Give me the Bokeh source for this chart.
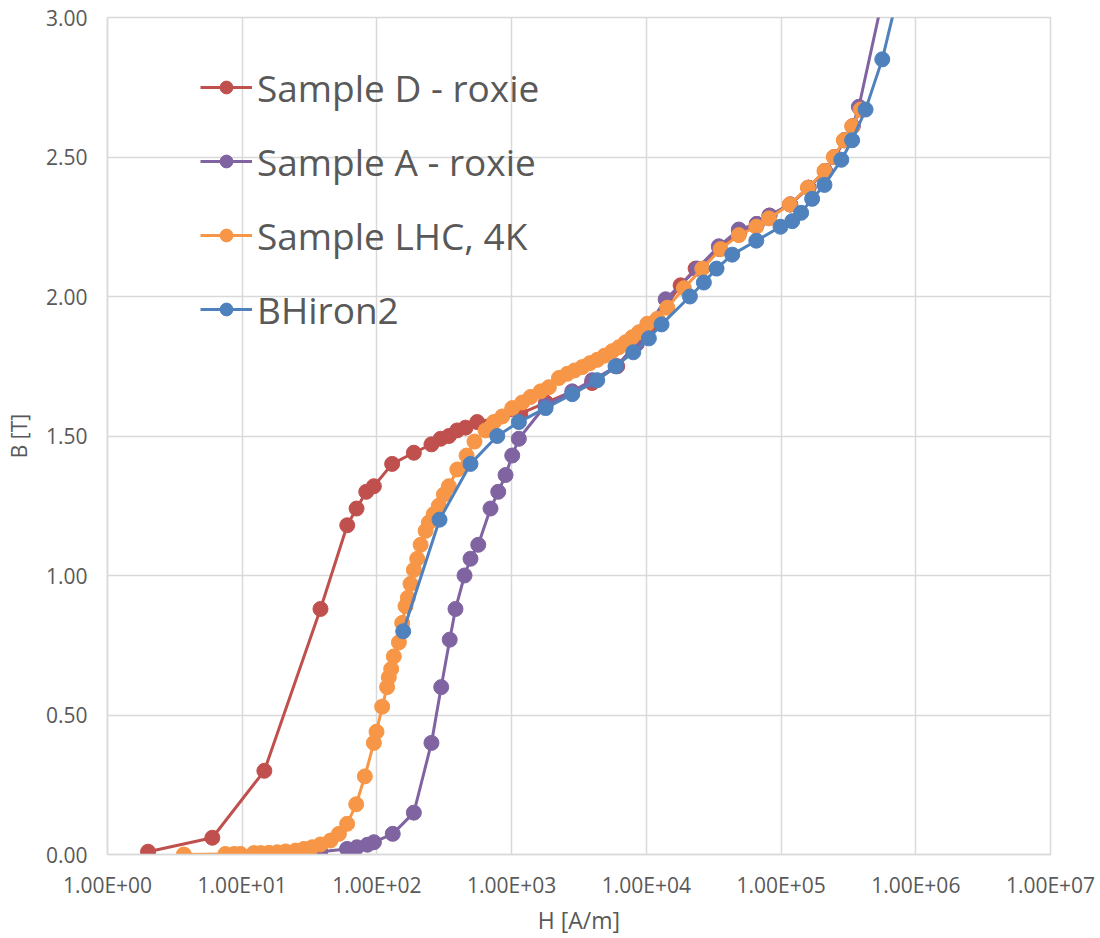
from bokeh.plotting import figure
from bokeh.models import (Range1d, FixedTicker, CustomJSTickFormatter, PrintfTickFormatter,
                          Legend, LegendItem)
from bokeh.embed import file_html
from bokeh.resources import INLINE

# B-H curves: field strength H [A/m] and flux density B [T]
h_sample_d = [2.0, 6.0, 14.6, 38.1, 60.2, 70.6, 83.3, 94.9, 129.7, 188, 254, 297, 342, 394, 455,
              555, 1160, 1800, 3950, 6080, 8000, 11000, 17950, 23200, 35000, 49000, 66000, 82000,
              117000, 160000, 212000, 250000, 295000, 340000, 390000]
b_sample_d = [0.01, 0.06, 0.30, 0.88, 1.18, 1.24, 1.30, 1.32, 1.40, 1.44, 1.47, 1.49, 1.50, 1.52, 1.53,
              1.55, 1.58, 1.62, 1.69, 1.75, 1.82, 1.90, 2.04, 2.10, 2.17, 2.23, 2.26, 2.29,
              2.33, 2.39, 2.45, 2.50, 2.56, 2.61, 2.67]

h_sample_a = [38, 60, 71, 85, 95, 131, 188, 254, 300, 347, 383, 447, 495, 565, 697, 795, 901, 1010,
              1131, 1786, 2818, 3967, 6000, 8500, 13900, 23900, 34500, 48600, 66000, 82000, 117000,
              160000, 212000, 250000, 295000, 340000, 378000, 800000]
b_sample_a = [0.01, 0.02, 0.026, 0.035, 0.044, 0.074, 0.15, 0.40, 0.60, 0.77, 0.88, 1.00, 1.06, 1.11,
              1.24, 1.30, 1.36, 1.43, 1.49, 1.61, 1.66, 1.70, 1.75, 1.83, 1.99, 2.10, 2.18, 2.24, 2.26,
              2.29, 2.33, 2.39, 2.45, 2.50, 2.56, 2.61, 2.68, 3.40]

h_sample_lhc = [3.69, 7.5, 8.7, 9.7, 12.2, 13.7, 15.8, 18.2, 21.0, 24.9, 28.7, 33.1, 38.1, 45.2, 52.2,
                60.1, 70.2, 81.3, 94.9, 99.3, 109.4, 119, 122.5, 127.6, 133.5, 145.6, 154, 163, 169.6,
                177.5, 188, 199, 211, 229.7, 243, 264, 288, 314, 342, 395, 463, 530, 640, 738, 851,
                1010, 1198, 1382, 1640, 1890, 2244, 2589, 2931, 3342, 3808, 4318, 4893, 5580, 6250,
                7015, 7857, 8810, 10160, 12050, 14290, 19000, 26000, 35560, 48600, 65500, 81300,
                116000, 158000, 210000, 246000, 292600, 337000, 389000]
b_sample_lhc = [0.0, 0.002, 0.002, 0.002, 0.005, 0.005, 0.006, 0.008, 0.011, 0.014, 0.02, 0.026, 0.036,
                0.05, 0.074, 0.11, 0.18, 0.28, 0.40, 0.44, 0.53, 0.60, 0.635, 0.665, 0.71, 0.76, 0.83,
                0.89, 0.92, 0.97, 1.02, 1.06, 1.11, 1.16, 1.19, 1.22, 1.25, 1.29, 1.32, 1.38, 1.43,
                1.48, 1.52, 1.55, 1.57, 1.60, 1.62, 1.64, 1.66, 1.675, 1.708, 1.723, 1.735, 1.747,
                1.761, 1.773, 1.788, 1.804, 1.818, 1.836, 1.854, 1.872, 1.902, 1.92, 1.96, 2.03, 2.10,
                2.17, 2.22, 2.25, 2.28, 2.33, 2.39, 2.45, 2.50, 2.56, 2.61, 2.67]

h_bhiron2 = [156.7, 291.6, 495, 782, 1132, 1786, 2818, 4318, 5902, 7993, 10440, 12970, 21050, 26720,
             33200, 43400, 65500, 99000, 121000, 141000, 170000, 210000, 280000, 337000, 424000,
             564000, 1000000]
b_bhiron2 = [0.8, 1.2, 1.4, 1.5, 1.55, 1.6, 1.65, 1.7, 1.75, 1.8, 1.85, 1.9, 2.0, 2.05, 2.1, 2.15, 2.2,
             2.25, 2.27, 2.3, 2.35, 2.4, 2.49, 2.56, 2.67, 2.85, 3.35]

x_ticks = [1, 10, 100, 1e3, 1e4, 1e5, 1e6, 1e7]
y_ticks = [0.0, 0.5, 1.0, 1.5, 2.0, 2.5, 3.0]

series = [
    ("Sample D - roxie", h_sample_d, b_sample_d, "#C0504D"),
    ("Sample A - roxie", h_sample_a, b_sample_a, "#8064A2"),
    ("Sample LHC, 4K", h_sample_lhc, b_sample_lhc, "#F79646"),
    ("BHiron2", h_bhiron2, b_bhiron2, "#4F81BD"),
]

TEXT = "#595959"
GRID = "#d9d9d9"
FONT = "Open Sans"

p = figure(width=1100, height=938, x_axis_type="log",
           x_range=Range1d(1, 1e7), y_range=Range1d(0, 3),
           output_backend="svg", toolbar_location=None,
           min_border_left=107, min_border_right=50, min_border_top=17, min_border_bottom=84)

p.background_fill_color = "white"
p.border_fill_color = "white"
p.outline_line_color = GRID
p.outline_line_width = 1.5

p.xaxis.ticker = FixedTicker(ticks=x_ticks)
p.yaxis.ticker = FixedTicker(ticks=y_ticks)
p.xgrid.ticker = FixedTicker(ticks=x_ticks)
p.ygrid.ticker = FixedTicker(ticks=y_ticks)
for g in (p.xgrid, p.ygrid):
    g.grid_line_color = GRID
    g.grid_line_width = 1.5

p.xaxis.formatter = CustomJSTickFormatter(code="""
    const e = Math.round(Math.log10(tick));
    return "1.00E+" + (e < 10 ? "0" : "") + e;
""")
p.yaxis.formatter = PrintfTickFormatter(format="%.2f")

for ax in (p.xaxis, p.yaxis):
    ax.axis_line_color = GRID
    ax.axis_line_width = 1.5
    ax.major_tick_line_color = None
    ax.minor_tick_line_color = None
    ax.major_label_text_font = FONT
    ax.major_label_text_font_size = "21px"
    ax.major_label_text_color = TEXT
    ax.axis_label_text_font = FONT
    ax.axis_label_text_font_style = "normal"
    ax.axis_label_text_color = TEXT

p.xaxis.axis_label = "H [A/m]"
p.xaxis.axis_label_text_font_size = "23px"
p.xaxis.major_label_standoff = 10
p.xaxis.axis_label_standoff = 2

p.yaxis.axis_label = "B [T]"
p.yaxis.axis_label_text_font_size = "21px"
p.yaxis.major_label_standoff = 14
p.yaxis.axis_label_standoff = 10

items = []
for name, hs, bs, color in series:
    ln = p.line(hs, bs, line_color=color, line_width=3)
    sc = p.scatter(hs, bs, marker="circle", size=15, fill_color=color, line_color=color)
    items.append(LegendItem(label=name, renderers=[ln, sc]))

legend = Legend(items=items, location=(93, 508), orientation="vertical",
                padding=0, margin=0, spacing=0,
                glyph_width=52, glyph_height=32, label_height=74, label_standoff=5,
                label_text_font=FONT, label_text_font_size="37px", label_text_color=TEXT,
                background_fill_alpha=0, border_line_alpha=0)
p.add_layout(legend)

open("out.html", "w").write(file_html(p, INLINE))
